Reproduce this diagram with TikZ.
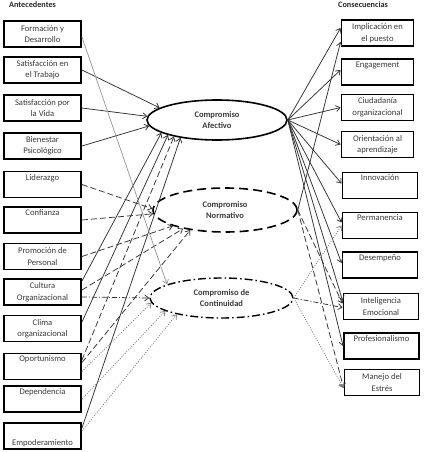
\documentclass[tikz,border=0pt]{standalone}
\usepackage{fontspec}
\setmainfont{Carlito}
\usetikzlibrary{shapes.geometric,arrows.meta}
\definecolor{txtgray}{HTML}{3A3A3A}
\definecolor{linec}{HTML}{303030}
\begin{document}
\begin{tikzpicture}[x=1pt,y=-1pt,
  lbox/.style={draw=black,line width=1.9pt,minimum width=77pt,minimum height=26pt,inner sep=0pt,align=center,
    font=\fontsize{8.6}{11.5}\selectfont,text=txtgray},
  rbox/.style={lbox,minimum width=72pt},
  ell/.style={ellipse,draw=black,line width=1.6pt,inner sep=0pt,align=center,
    font=\bfseries\fontsize{8.5}{11}\selectfont,text=txtgray,minimum width=140pt,minimum height=40pt},
  hdr/.style={font=\bfseries\fontsize{8.2}{10}\selectfont,text=black!85,anchor=west,inner sep=0pt},
  tip/.style={-{Straight Barb[length=4pt,width=6pt]}},
  sol/.style={draw=linec,line width=0.75pt,tip},
  dsh/.style={sol,dash pattern=on 6pt off 3pt},
  dtt/.style={draw=gray,line width=0.8pt,dash pattern=on 1pt off 1.4pt,tip},
  ddt/.style={sol,dash pattern=on 5pt off 2pt on 1pt off 2pt},
  thn/.style={draw=gray!85,line width=0.7pt,tip}]
\useasboundingbox[fill=white] (0,0) rectangle (423,452);

% headers
\node[hdr] (hl) at (9,5) {Antecedentes};
\node[hdr] (hr) at (338,5) {Consecuencias};

% left boxes
\node[lbox] (l1) at (42.5,34) {Formación y\\Desarrollo};
\node[lbox] (l2) at (42.5,70) {Satisfacción en\\el Trabajo};
\node[lbox] (l3) at (42.5,108) {Satisfacción por\\la Vida};
\node[lbox] (l4) at (42.5,146) {Bienestar\\Psicológico};
\node[lbox] (l5) at (42.5,184.5) {Liderazgo\\\strut};
\node[lbox] (l6) at (42.5,220) {Confianza\\\strut};
\node[lbox] (l7) at (42.5,256.5) {Promoción de\\Personal};
\node[lbox] (l8) at (42.5,292) {Cultura\\Organizacional};
\node[lbox] (l9) at (42.5,328.5) {Clima\\organizacional};
\node[lbox] (l10) at (42.5,366.5) {Oportunismo\\\strut};
\node[lbox] (l11) at (42.5,399) {Dependencia\\\strut};
\node[lbox] (l12) at (42.5,436) {\strut\\Empoderamiento};

% right boxes
\node[rbox] (r1) at (377.5,33) {Implicación en\\el puesto};
\node[rbox] (r2) at (377.5,72) {Engagement\\\strut};
\node[rbox] (r3) at (377.5,107.5) {Ciudadanía\\organizacional};
\node[rbox] (r4) at (377.5,144.5) {Orientación al\\aprendizaje};
\node[rbox,minimum width=75pt] (r5) at (380,185.5) {Innovación\\\strut};
\node[rbox,minimum width=75pt] (r6) at (380,225.5) {Permanencia\\\strut};
\node[rbox,minimum width=75pt] (r7) at (380,265) {Desempeño\\\strut};
\node[rbox,minimum width=75pt] (r8) at (381,306.5) {Inteligencia\\Emocional};
\node[rbox,minimum width=75pt] (r9) at (381.5,346) {Profesionalismo\\\strut};
\node[rbox,minimum width=75pt] (r10) at (382,382.5) {Manejo del\\Estrés};

% ellipses
\node[ell] (af) at (217,120) {Compromiso\\Afectivo};
\node[ell,minimum width=144pt,minimum height=44pt,dash pattern=on 9pt off 5pt] (nm) at (225,210) {Compromiso\\Normativo};
\node[ell,minimum width=143pt,line width=1.4pt,dash pattern=on 8pt off 3pt on 1.5pt off 3pt] (ct) at (221.5,298) {Compromiso de\\Continuidad};

% antecedents -> Afectivo
\draw[sol] (l2.east) -- (af.168);
\draw[sol] (l3.east) -- (af.177);
\draw[sol] (l4.east) -- (af.185);
\draw[sol] ([yshift=11pt]l8.east) -- (af.193);
\draw[sol] ([yshift=6.5pt]l9.east) -- (af.197);
\draw[dsh] ([yshift=6.5pt]l10.east) -- (af.201);
\draw[sol] ([yshift=8pt]l12.east) -- (af.206);

% antecedents -> Normativo
\draw[dsh] (l5.east) -- (nm.179);
\draw[dsh] (l6.east) -- (nm.183);
\draw[dsh] (l7.east) -- (nm.197);
\draw[dsh] ([yshift=2pt]l8.east) -- (nm.204);
\draw[dsh] ([yshift=4pt]l10.east) -- (nm.210);

% antecedents -> Continuidad
\draw[thn] ([yshift=-3pt]l1.east) -- (ct.166);
\draw[ddt] ([yshift=-5pt]l8.east) -- (ct.180);
\draw[dtt] ([yshift=-5pt]l10.east) -- (ct.184);
\draw[dtt] (l11.east) -- (ct.193);
\draw[dtt] ([yshift=5pt]l12.east) -- (ct.200);

% Afectivo -> consequences
\draw[sol] (af.east) -- ([yshift=5pt]r1.west);
\draw[sol] (af.east) -- ([yshift=2pt]r2.west);
\draw[sol] (af.east) -- (r3.west);
\draw[sol] (af.east) -- (r4.west);
\draw[sol] (af.east) -- ([yshift=2pt]r5.west);
\draw[sol] (af.east) -- ([yshift=3pt]r6.west);
\draw[sol] (af.east) -- ([yshift=2pt]r7.west);
\draw[sol] (af.east) -- ([yshift=6pt]r8.west);
\draw[sol] (af.east) -- (r9.west);

% Normativo -> consequences
\draw[sol] (nm.east) -- ([yshift=-9pt]r1.west);
\draw[dsh] (nm.east) -- ([yshift=3pt]r8.west);
\draw[dsh] (nm.east) -- ([yshift=-5.5pt]r10.west);

% Continuidad -> consequences
\draw[dtt] (ct.east) -- (r6.west);
\draw[ddt] (ct.east) -- ([yshift=-1pt]r8.west);
\draw[dtt] (ct.east) -- ([yshift=-5.5pt]r10.west);
\end{tikzpicture}
\end{document}
